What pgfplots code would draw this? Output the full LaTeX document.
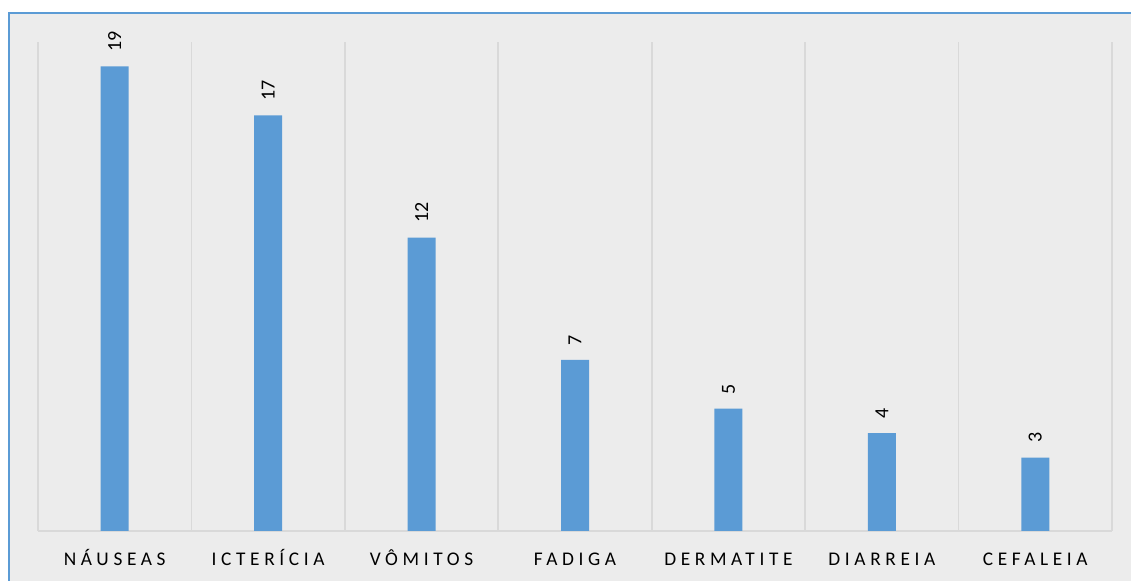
\documentclass[border=0pt]{standalone}
\usepackage{fontspec}
\setmainfont{Carlito}
\newfontfamily\lsfont{Carlito}[LetterSpace=24]
\usepackage{pgfplots}
\pgfplotsset{compat=1.18}
\definecolor{barblue}{HTML}{5B9BD5}
\definecolor{bgfill}{HTML}{ECECEC}
\definecolor{gridgray}{HTML}{D9D9D9}
\definecolor{borderblue}{HTML}{5B9BD5}
\begin{document}
\begin{tikzpicture}
\useasboundingbox (0,0) rectangle (848.25pt,435.75pt);
\fill[bgfill] (6.75pt,0pt) rectangle (848.25pt,426pt);
\draw[borderblue, line width=1.5pt] (6.75pt,0pt) -- (6.75pt,426pt) -- (848.25pt,426pt);
\begin{axis}[
  at={(28.5pt,37.5pt)}, anchor=south west,
  scale only axis, width=805.5pt, height=366.75pt,
  xmin=-0.5, xmax=6.5, ymin=0, ymax=20,
  enlargelimits=false,
  axis x line*=bottom, axis y line=none,
  axis line style={draw=gridgray, line width=1.3pt},
  xtick={0,...,6},
  xticklabels={NÁUSEAS,ICTERÍCIA,VÔMITOS,FADIGA,DERMATITE,DIARREIA,CEFALEIA},
  major tick length=0pt, minor tick length=0pt,
  minor xtick={-0.5,0.5,...,6.5},
  xminorgrids,
  minor grid style={draw=gridgray, line width=1.3pt},
  ytick=\empty,
  xticklabel style={font=\lsfont\fontsize{14.5}{17}\selectfont, text=black, anchor=base, yshift=-26.25pt},
  ybar, bar width=21pt,
  nodes near coords,
  /pgf/number format/assume math mode=true,
  every node near coord/.append style={font=\fontsize{15}{18}\selectfont, text=black, rotate=90, anchor=west, inner sep=0pt, outer xsep=11pt},
]
\addplot[fill=barblue, draw=none] coordinates {(0,19) (1,17) (2,12) (3,7) (4,5) (5,4) (6,3)};
\end{axis}
\end{tikzpicture}
\end{document}
